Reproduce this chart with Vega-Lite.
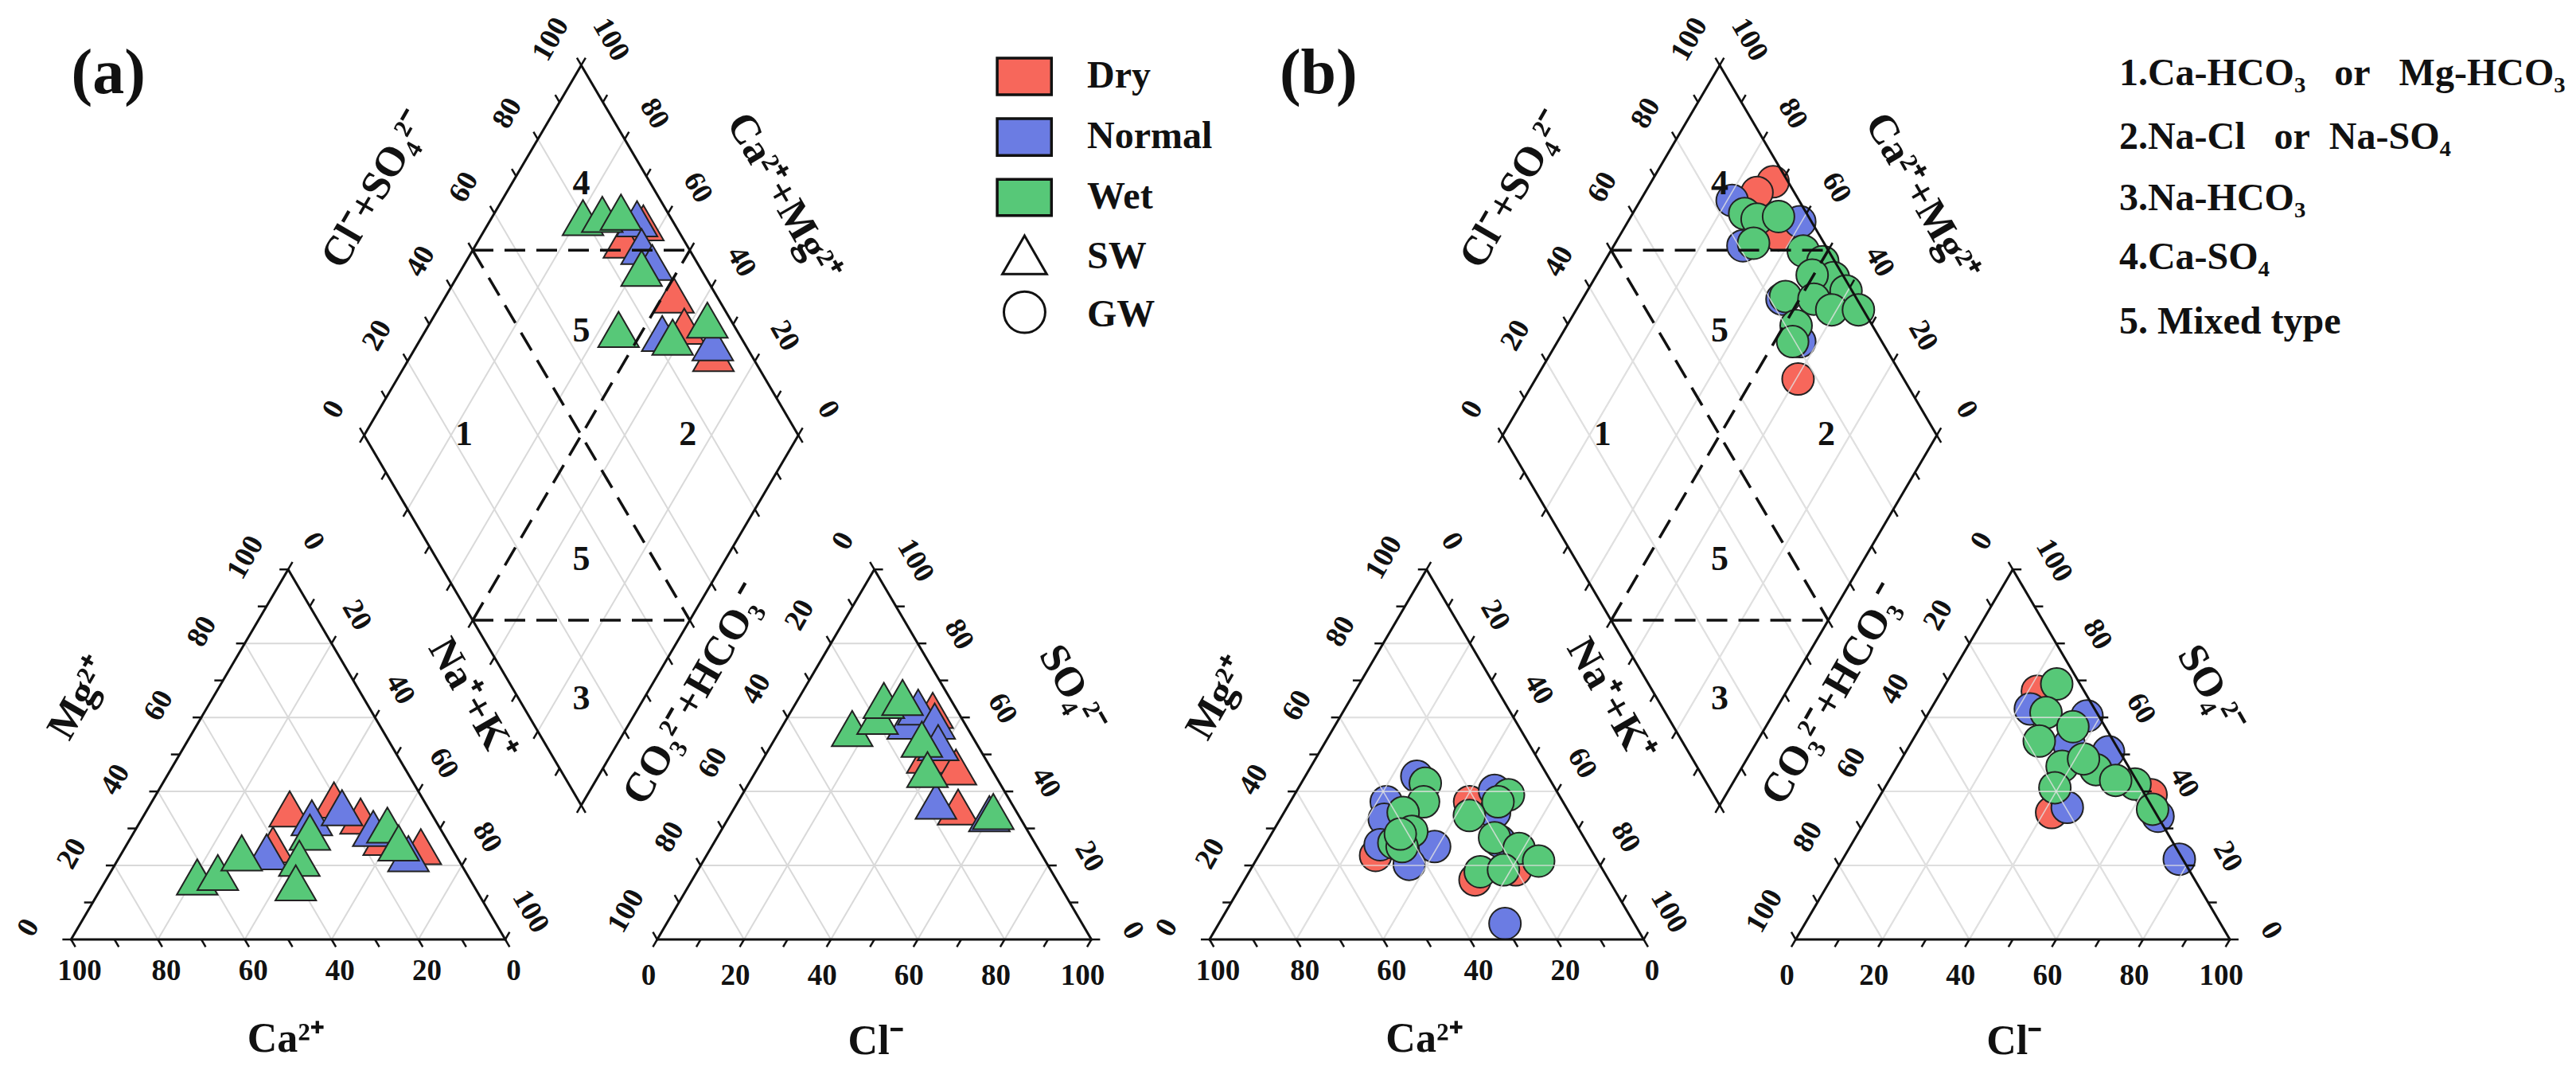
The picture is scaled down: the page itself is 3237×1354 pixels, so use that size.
{
"$schema":"https://vega.github.io/schema/vega-lite/v6.json",
"width":3237,"height":1354,
"autosize":{"type":"fit","contains":"padding"},
"padding":0,
"background":"white",
"config":{"view":{"stroke":null},"text":{"font":"Liberation Serif"}},
"encoding":{
 "x":{"field":"X","type":"quantitative","scale":{"domain":[-16.367,576.92],"nice":false,"zero":false},"axis":null},
 "y":{"field":"Y","type":"quantitative","scale":{"domain":[-32.42,219.86],"nice":false,"zero":false},"axis":null}
},
"datasets":{
 "seg":[
  {"k":"grid","g":["C","A"],"u":0,"v":20,"u2":80,"v2":20},
  {"k":"grid","g":["C","A"],"u":0,"v":40,"u2":60,"v2":40},
  {"k":"grid","g":["C","A"],"u":0,"v":60,"u2":40,"v2":60},
  {"k":"grid","g":["C","A"],"u":0,"v":80,"u2":20,"v2":80},
  {"k":"grid","g":["C","A"],"u":20,"v":0,"u2":20,"v2":80},
  {"k":"grid","g":["C","A"],"u":40,"v":0,"u2":40,"v2":60},
  {"k":"grid","g":["C","A"],"u":60,"v":0,"u2":60,"v2":40},
  {"k":"grid","g":["C","A"],"u":80,"v":0,"u2":80,"v2":20},
  {"k":"grid","g":["C","A"],"u":80,"v":0,"u2":0,"v2":80},
  {"k":"grid","g":["C","A"],"u":60,"v":0,"u2":0,"v2":60},
  {"k":"grid","g":["C","A"],"u":40,"v":0,"u2":0,"v2":40},
  {"k":"grid","g":["C","A"],"u":20,"v":0,"u2":0,"v2":20},
  {"k":"grid","g":["D"],"u":20,"v":0,"u2":20,"v2":100},
  {"k":"grid","g":["D"],"u":40,"v":0,"u2":40,"v2":100},
  {"k":"grid","g":["D"],"u":60,"v":0,"u2":60,"v2":100},
  {"k":"grid","g":["D"],"u":80,"v":0,"u2":80,"v2":100},
  {"k":"grid","g":["D"],"u":0,"v":20,"u2":100,"v2":20},
  {"k":"grid","g":["D"],"u":0,"v":40,"u2":100,"v2":40},
  {"k":"grid","g":["D"],"u":0,"v":60,"u2":100,"v2":60},
  {"k":"grid","g":["D"],"u":0,"v":80,"u2":100,"v2":80},
  {"k":"frame","g":["C","A"],"u":0,"v":0,"u2":100,"v2":0},
  {"k":"frame","g":["C","A"],"u":100,"v":0,"u2":0,"v2":100},
  {"k":"frame","g":["C","A"],"u":0,"v":100,"u2":0,"v2":0},
  {"k":"frame","g":["D"],"u":0,"v":0,"u2":100,"v2":0},
  {"k":"frame","g":["D"],"u":100,"v":0,"u2":100,"v2":100},
  {"k":"frame","g":["D"],"u":100,"v":100,"u2":0,"v2":100},
  {"k":"frame","g":["D"],"u":0,"v":100,"u2":0,"v2":0},
  {"k":"dash","g":["D"],"u":100,"v":50,"u2":0,"v2":50},
  {"k":"dash","g":["D"],"u":50,"v":0,"u2":50,"v2":100},
  {"k":"dash","g":["D"],"u":100,"v":50,"u2":50,"v2":100},
  {"k":"dash","g":["D"],"u":50,"v":0,"u2":0,"v2":50}
 ],
 "edges":[
  {"g":"C","ua":0,"ub":1,"va":0,"vb":0,"du":1,"dv":-1,"ks":[0,10,20,30,40,50,60,70,80,90,100]},
  {"g":"C","ua":0,"ub":0,"va":0,"vb":1,"du":-1,"dv":0,"ks":[0,10,20,30,40,50,60,70,80,90,100]},
  {"g":"C","ua":0,"ub":1,"va":100,"vb":-1,"du":0,"dv":1,"ks":[0,10,20,30,40,50,60,70,80,90,100]},
  {"g":"A","ua":0,"ub":1,"va":0,"vb":0,"du":0,"dv":-1,"ks":[0,10,20,30,40,50,60,70,80,90,100]},
  {"g":"A","ua":0,"ub":0,"va":0,"vb":1,"du":-1,"dv":1,"ks":[0,10,20,30,40,50,60,70,80,90,100]},
  {"g":"A","ua":0,"ub":1,"va":100,"vb":-1,"du":1,"dv":0,"ks":[0,10,20,30,40,50,60,70,80,90,100]},
  {"g":"D","ua":100,"ub":0,"va":0,"vb":1,"du":1,"dv":0,"ks":[0,10,20,30,40,50,60,70,80,90,100]},
  {"g":"D","ua":0,"ub":1,"va":100,"vb":0,"du":0,"dv":1,"ks":[0,10,20,30,40,50,60,70,80,90,100]},
  {"g":"D","ua":0,"ub":1,"va":0,"vb":0,"du":0,"dv":-1,"ks":[0,10,20,30,40,50,60,70,80,90,100]},
  {"g":"D","ua":0,"ub":0,"va":0,"vb":1,"du":-1,"dv":0,"ks":[0,10,20,30,40,50,60,70,80,90,100]}
 ],
 "lab":[
  {"g":"C","u":6.3,"v":-8.7,"t":"100","a":0,"fs":37},
  {"g":"C","u":26.3,"v":-8.7,"t":"80","a":0,"fs":37},
  {"g":"C","u":46.3,"v":-8.7,"t":"60","a":0,"fs":37},
  {"g":"C","u":66.3,"v":-8.7,"t":"40","a":0,"fs":37},
  {"g":"C","u":86.3,"v":-8.7,"t":"20","a":0,"fs":37},
  {"g":"C","u":106.3,"v":-8.7,"t":"0","a":0,"fs":37},
  {"g":"C","u":-11.4,"v":3.2,"t":"0","a":-60,"fs":37},
  {"g":"C","u":-11.4,"v":23.2,"t":"20","a":-60,"fs":37},
  {"g":"C","u":-11.4,"v":43.2,"t":"40","a":-60,"fs":37},
  {"g":"C","u":-11.4,"v":63.2,"t":"60","a":-60,"fs":37},
  {"g":"C","u":-11.4,"v":83.2,"t":"80","a":-60,"fs":37},
  {"g":"C","u":-11.4,"v":103.2,"t":"100","a":-60,"fs":37},
  {"g":"C","u":2,"v":107.6,"t":"0","a":60,"fs":37},
  {"g":"C","u":22,"v":87.6,"t":"20","a":60,"fs":37},
  {"g":"C","u":42,"v":67.6,"t":"40","a":60,"fs":37},
  {"g":"C","u":62,"v":47.6,"t":"60","a":60,"fs":37},
  {"g":"C","u":82,"v":27.6,"t":"80","a":60,"fs":37},
  {"g":"C","u":102,"v":7.6,"t":"100","a":60,"fs":37},
  {"g":"A","u":2.9,"v":-9.8,"t":"0","a":0,"fs":37},
  {"g":"A","u":22.9,"v":-9.8,"t":"20","a":0,"fs":37},
  {"g":"A","u":42.9,"v":-9.8,"t":"40","a":0,"fs":37},
  {"g":"A","u":62.9,"v":-9.8,"t":"60","a":0,"fs":37},
  {"g":"A","u":82.9,"v":-9.8,"t":"80","a":0,"fs":37},
  {"g":"A","u":102.9,"v":-9.8,"t":"100","a":0,"fs":37},
  {"g":"A","u":-11,"v":107.7,"t":"0","a":-60,"fs":37},
  {"g":"A","u":-11,"v":87.7,"t":"20","a":-60,"fs":37},
  {"g":"A","u":-11,"v":67.7,"t":"40","a":-60,"fs":37},
  {"g":"A","u":-11,"v":47.7,"t":"60","a":-60,"fs":37},
  {"g":"A","u":-11,"v":27.7,"t":"80","a":-60,"fs":37},
  {"g":"A","u":-11,"v":7.7,"t":"100","a":-60,"fs":37},
  {"g":"A","u":108.3,"v":2.4,"t":"0","a":60,"fs":37},
  {"g":"A","u":88.3,"v":22.4,"t":"20","a":60,"fs":37},
  {"g":"A","u":68.3,"v":42.4,"t":"40","a":60,"fs":37},
  {"g":"A","u":48.3,"v":62.4,"t":"60","a":60,"fs":37},
  {"g":"A","u":28.3,"v":82.4,"t":"80","a":60,"fs":37},
  {"g":"A","u":8.3,"v":102.4,"t":"100","a":60,"fs":37},
  {"g":"D","u":110.5,"v":-3.5,"t":"0","a":-60,"fs":37},
  {"g":"D","u":110.5,"v":16.5,"t":"20","a":-60,"fs":37},
  {"g":"D","u":110.5,"v":36.5,"t":"40","a":-60,"fs":37},
  {"g":"D","u":110.5,"v":56.5,"t":"60","a":-60,"fs":37},
  {"g":"D","u":110.5,"v":76.5,"t":"80","a":-60,"fs":37},
  {"g":"D","u":110.5,"v":96.5,"t":"100","a":-60,"fs":37},
  {"g":"D","u":-3.4,"v":110.3,"t":"0","a":60,"fs":37},
  {"g":"D","u":16.6,"v":110.3,"t":"20","a":60,"fs":37},
  {"g":"D","u":36.6,"v":110.3,"t":"40","a":60,"fs":37},
  {"g":"D","u":56.6,"v":110.3,"t":"60","a":60,"fs":37},
  {"g":"D","u":76.6,"v":110.3,"t":"80","a":60,"fs":37},
  {"g":"D","u":96.6,"v":110.3,"t":"100","a":60,"fs":37},
  {"g":"C","u":63,"v":-27,"t":"Ca²⁺","a":0,"fs":52},
  {"g":"C","u":-30.6,"v":65.2,"t":"Mg²⁺","a":-60,"fs":52},
  {"g":"C","u":60.1,"v":64.7,"t":"Na⁺+K⁺","a":60,"fs":52},
  {"g":"A","u":64.1,"v":-27.5,"t":"Cl⁻","a":0,"fs":52},
  {"g":"A","u":-24.5,"v":66.2,"t":"CO₃²⁻+HCO₃⁻","a":-60,"fs":52},
  {"g":"A","u":61.9,"v":67.65,"t":"SO₄²⁻","a":60,"fs":52},
  {"g":"D","u":130.7,"v":35.75,"t":"Cl⁻+SO₄²⁻","a":-60,"fs":52},
  {"g":"D","u":35.5,"v":128.8,"t":"Ca²⁺+Mg²⁺","a":60,"fs":52},
  {"g":"D","u":84,"v":84,"t":"4","a":0,"fs":44},
  {"g":"D","u":64.1,"v":64.1,"t":"5","a":0,"fs":44},
  {"g":"D","u":77.1,"v":23.1,"t":"1","a":0,"fs":44},
  {"g":"D","u":25.5,"v":74.6,"t":"2","a":0,"fs":44},
  {"g":"D","u":33.15,"v":33.15,"t":"5","a":0,"fs":44},
  {"g":"D","u":14.4,"v":14.4,"t":"3","a":0,"fs":44}
 ],
 "pts":[
  {"t":"SW","s":"Dry","g":"C","u":33.7,"v":25.6},{"t":"SW","s":"Dry","g":"C","u":32.7,"v":35.3},{"t":"SW","s":"Dry","g":"C","u":41.7,"v":37.7},{"t":"SW","s":"Dry","g":"C","u":50.0,"v":33.35},{"t":"SW","s":"Dry","g":"C","u":58.2,"v":27.6},{"t":"SW","s":"Dry","g":"C","u":68.0,"v":25.1},
  {"t":"SW","s":"Normal","g":"C","u":33.2,"v":23.7},{"t":"SW","s":"Normal","g":"C","u":39.0,"v":32.9},{"t":"SW","s":"Normal","g":"C","u":44.6,"v":35.6},{"t":"SW","s":"Normal","g":"C","u":54.6,"v":30.0},{"t":"SW","s":"Normal","g":"C","u":66.1,"v":23.2},
  {"t":"SW","s":"Wet","g":"C","u":20.6,"v":16.9},{"t":"SW","s":"Wet","g":"C","u":24.75,"v":18.1},{"t":"SW","s":"Wet","g":"C","u":27.6,"v":23.4},{"t":"SW","s":"Wet","g":"C","u":40.5,"v":29.0},{"t":"SW","s":"Wet","g":"C","u":41.6,"v":21.95},{"t":"SW","s":"Wet","g":"C","u":44.1,"v":15.3},{"t":"SW","s":"Wet","g":"C","u":57.4,"v":30.9},{"t":"SW","s":"Wet","g":"C","u":62.4,"v":26.1},
  {"t":"SW","s":"Dry","g":"A","u":32.5,"v":61.9},{"t":"SW","s":"Dry","g":"A","u":37.3,"v":49.8},{"t":"SW","s":"Dry","g":"A","u":41.0,"v":49.8},{"t":"SW","s":"Dry","g":"A","u":45.5,"v":46.6},{"t":"SW","s":"Dry","g":"A","u":51.4,"v":35.8},
  {"t":"SW","s":"Normal","g":"A","u":28.2,"v":59.0},{"t":"SW","s":"Normal","g":"A","u":28.7,"v":62.8},{"t":"SW","s":"Normal","g":"A","u":34.4,"v":59.0},{"t":"SW","s":"Normal","g":"A","u":38.1,"v":53.2},{"t":"SW","s":"Normal","g":"A","u":45.5,"v":37.4},{"t":"SW","s":"Normal","g":"A","u":59.5,"v":34.0},
  {"t":"SW","s":"Wet","g":"A","u":16.4,"v":57.0},{"t":"SW","s":"Wet","g":"A","u":20.6,"v":60.3},{"t":"SW","s":"Wet","g":"A","u":19.9,"v":64.6},{"t":"SW","s":"Wet","g":"A","u":23.8,"v":65.4},{"t":"SW","s":"Wet","g":"A","u":33.9,"v":54.1},{"t":"SW","s":"Wet","g":"A","u":39.3,"v":45.9},{"t":"SW","s":"Wet","g":"A","u":60.1,"v":34.6},
  {"t":"SW","s":"Dry","g":"D","u":64.4,"v":93.0},{"t":"SW","s":"Dry","g":"D","u":66.55,"v":86.2},{"t":"SW","s":"Dry","g":"D","u":47.7,"v":90.2},{"t":"SW","s":"Dry","g":"D","u":41.0,"v":88.45},{"t":"SW","s":"Dry","g":"D","u":30.6,"v":91.5},
  {"t":"SW","s":"Normal","g":"D","u":66.4,"v":92.1},{"t":"SW","s":"Normal","g":"D","u":61.6,"v":89.4},{"t":"SW","s":"Normal","g":"D","u":57.0,"v":89.7},{"t":"SW","s":"Normal","g":"D","u":45.1,"v":82.4},{"t":"SW","s":"Normal","g":"D","u":32.2,"v":92.8},
  {"t":"SW","s":"Wet","g":"D","u":79.0,"v":79.8},{"t":"SW","s":"Wet","g":"D","u":75.0,"v":84.7},{"t":"SW","s":"Wet","g":"D","u":71.0,"v":89.3},{"t":"SW","s":"Wet","g":"D","u":58.65,"v":86.45},{"t":"SW","s":"Wet","g":"D","u":55.7,"v":72.9},{"t":"SW","s":"Wet","g":"D","u":42.2,"v":84.3},{"t":"SW","s":"Wet","g":"D","u":36.5,"v":94.6},
  {"t":"GW","s":"Dry","g":"C","u":26.9,"v":22.7},{"t":"GW","s":"Dry","g":"C","u":41.3,"v":37.2},{"t":"GW","s":"Dry","g":"C","u":53.1,"v":16.1},{"t":"GW","s":"Dry","g":"C","u":61.1,"v":18.8},
  {"t":"GW","s":"Normal","g":"C","u":25.7,"v":44.1},{"t":"GW","s":"Normal","g":"C","u":22.1,"v":37.2},{"t":"GW","s":"Normal","g":"C","u":24.0,"v":32.5},{"t":"GW","s":"Normal","g":"C","u":26.5,"v":25.6},{"t":"GW","s":"Normal","g":"C","u":39.3,"v":25.1},{"t":"GW","s":"Normal","g":"C","u":35.85,"v":20.3},{"t":"GW","s":"Normal","g":"C","u":45.5,"v":40.3},{"t":"GW","s":"Normal","g":"C","u":48.5,"v":34.3},{"t":"GW","s":"Normal","g":"C","u":53.6,"v":26.5},{"t":"GW","s":"Normal","g":"C","u":65.9,"v":4.3},
  {"t":"GW","s":"Wet","g":"C","u":28.6,"v":42.2},{"t":"GW","s":"Wet","g":"C","u":30.7,"v":37.2},{"t":"GW","s":"Wet","g":"C","u":27.45,"v":34.3},{"t":"GW","s":"Wet","g":"C","u":32.0,"v":29.2},{"t":"GW","s":"Wet","g":"C","u":29.4,"v":26.1},{"t":"GW","s":"Wet","g":"C","u":31.8,"v":25.1},{"t":"GW","s":"Wet","g":"C","u":29.7,"v":28.5},{"t":"GW","s":"Wet","g":"C","u":49.3,"v":39.1},{"t":"GW","s":"Wet","g":"C","u":47.85,"v":37.2},{"t":"GW","s":"Wet","g":"C","u":43.1,"v":33.5},{"t":"GW","s":"Wet","g":"C","u":51.9,"v":27.5},{"t":"GW","s":"Wet","g":"C","u":59.0,"v":24.6},{"t":"GW","s":"Wet","g":"C","u":65.2,"v":21.2},{"t":"GW","s":"Wet","g":"C","u":53.2,"v":18.3},{"t":"GW","s":"Wet","g":"C","u":58.3,"v":18.8},
  {"t":"GW","s":"Dry","g":"A","u":22.1,"v":67.1},{"t":"GW","s":"Dry","g":"A","u":62.3,"v":39.1},{"t":"GW","s":"Dry","g":"A","u":41.8,"v":34.3},
  {"t":"GW","s":"Normal","g":"A","u":22.9,"v":62.3},{"t":"GW","s":"Normal","g":"A","u":36.9,"v":60.4},{"t":"GW","s":"Normal","g":"A","u":46.7,"v":50.7},{"t":"GW","s":"Normal","g":"A","u":36.7,"v":52.6},{"t":"GW","s":"Normal","g":"A","u":66.8,"v":33.3},{"t":"GW","s":"Normal","g":"A","u":44.7,"v":35.7},{"t":"GW","s":"Normal","g":"A","u":77.5,"v":21.7},
  {"t":"GW","s":"Wet","g":"A","u":25.6,"v":69.05},{"t":"GW","s":"Wet","g":"A","u":27.0,"v":61.3},{"t":"GW","s":"Wet","g":"A","u":35.1,"v":57.5},{"t":"GW","s":"Wet","g":"A","u":29.3,"v":53.6},{"t":"GW","s":"Wet","g":"A","u":37.96,"v":46.8},{"t":"GW","s":"Wet","g":"A","u":46.2,"v":45.9},{"t":"GW","s":"Wet","g":"A","u":57.15,"v":42.0},{"t":"GW","s":"Wet","g":"A","u":64.6,"v":35.2},{"t":"GW","s":"Wet","g":"A","u":39.2,"v":41.0},{"t":"GW","s":"Wet","g":"A","u":52.2,"v":43.0},{"t":"GW","s":"Wet","g":"A","u":41.9,"v":48.8},
  {"t":"GW","s":"Dry","g":"D","u":71.95,"v":96.55},{"t":"GW","s":"Dry","g":"D","u":74.2,"v":91.4},{"t":"GW","s":"Dry","g":"D","u":63.5,"v":90.6},{"t":"GW","s":"Dry","g":"D","u":39.55,"v":75.65},
  {"t":"GW","s":"Normal","g":"D","u":78.85,"v":84.6},{"t":"GW","s":"Normal","g":"D","u":60.4,"v":97.3},{"t":"GW","s":"Normal","g":"D","u":70.25,"v":80.95},{"t":"GW","s":"Normal","g":"D","u":54.05,"v":82.75},{"t":"GW","s":"Normal","g":"D","u":44.2,"v":81.1},
  {"t":"GW","s":"Wet","g":"D","u":74.2,"v":85.7},{"t":"GW","s":"Wet","g":"D","u":70.6,"v":87.8},{"t":"GW","s":"Wet","g":"D","u":66.0,"v":93.1},{"t":"GW","s":"Wet","g":"D","u":68.15,"v":83.75},{"t":"GW","s":"Wet","g":"D","u":55.65,"v":94.15},{"t":"GW","s":"Wet","g":"D","u":49.7,"v":97.2},{"t":"GW","s":"Wet","g":"D","u":45.1,"v":97.5},{"t":"GW","s":"Wet","g":"D","u":50.35,"v":92.95},{"t":"GW","s":"Wet","g":"D","u":40.4,"v":98.6},{"t":"GW","s":"Wet","g":"D","u":53.6,"v":83.9},{"t":"GW","s":"Wet","g":"D","u":46.7,"v":90.1},{"t":"GW","s":"Wet","g":"D","u":41.15,"v":92.75},{"t":"GW","s":"Wet","g":"D","u":35.0,"v":98.9},{"t":"GW","s":"Wet","g":"D","u":47.2,"v":82.4},{"t":"GW","s":"Wet","g":"D","u":45.85,"v":79.45}
 ],
 "legr":[
  {"s":"Dry","X":213.3,"X2":225.8,"Y":197.69,"Y2":206.26},
  {"s":"Normal","X":213.3,"X2":225.8,"Y":183.5,"Y2":192.1},
  {"s":"Wet","X":213.3,"X2":225.8,"Y":169.4,"Y2":177.9}
 ],
 "legt":[
  {"t":"Dry","X":234.0,"Y":201.97,"fs":48},
  {"t":"Normal","X":234.0,"Y":187.8,"fs":48},
  {"t":"Wet","X":234.0,"Y":173.6,"fs":48},
  {"t":"SW","X":234.0,"Y":159.7,"fs":48},
  {"t":"GW","X":234.0,"Y":146.1,"fs":48},
  {"t":"1.Ca-HCO₃\u00a0\u00a0\u00a0or\u00a0\u00a0\u00a0Mg-HCO₃","X":471.7,"Y":202.5,"fs":48},
  {"t":"2.Na-Cl\u00a0\u00a0\u00a0or\u00a0\u00a0Na-SO₄","X":471.7,"Y":187.6,"fs":48},
  {"t":"3.Na-HCO₃","X":471.7,"Y":173.3,"fs":48},
  {"t":"4.Ca-SO₄","X":471.7,"Y":159.5,"fs":48},
  {"t":"5.\u00a0Mixed type","X":471.7,"Y":144.4,"fs":48}
 ],
 "plab":[
  {"t":"(a)","X":8.6,"Y":202.5},
  {"t":"(b)","X":287.3,"Y":202.5}
 ]
},
"layer":[
 {"data":{"name":"seg"},
  "transform":[{"filter":"datum.k=='grid'"},{"flatten":["g"]},{"calculate":"['a','b']","as":"p"},{"flatten":["p"]},
   {"calculate":"(datum.g=='C' ? datum.u+datum.v/2 : datum.g=='A' ? 135+datum.u+datum.v/2 : 117.5+(datum.v-datum.u)/2) + (datum.p=='b' ? 262.2 : 0)","as":"X"},
   {"calculate":"datum.g=='D' ? 31.4+0.866*(datum.u+datum.v) : 0.866*datum.v","as":"Y"},
   {"calculate":"(datum.g=='C' ? datum.u2+datum.v2/2 : datum.g=='A' ? 135+datum.u2+datum.v2/2 : 117.5+(datum.v2-datum.u2)/2) + (datum.p=='b' ? 262.2 : 0)","as":"X2"},
   {"calculate":"datum.g=='D' ? 31.4+0.866*(datum.u2+datum.v2) : 0.866*datum.v2","as":"Y2"}],
  "mark":{"type":"rule","stroke":"#d9d9d9","strokeWidth":2},
  "encoding":{"x2":{"field":"X2"},"y2":{"field":"Y2"}}},
 {"data":{"name":"pts"},
  "transform":[{"calculate":"datum.t=='GW' ? 'b' : 'a'","as":"p"},
   {"calculate":"(datum.g=='C' ? datum.u+datum.v/2 : datum.g=='A' ? 135+datum.u+datum.v/2 : 117.5+(datum.v-datum.u)/2) + (datum.p=='b' ? 262.2 : 0)","as":"X"},
   {"calculate":"datum.g=='D' ? 31.4+0.866*(datum.u+datum.v) : 0.866*datum.v","as":"Y"}],
  "mark":{"type":"point","filled":true,"stroke":"#222222","strokeWidth":2,"opacity":1},
  "encoding":{
   "shape":{"field":"t","type":"nominal","scale":{"domain":["SW","GW"],"range":["triangle-up","circle"]},"legend":null},
   "size":{"field":"t","type":"ordinal","scale":{"domain":["SW","GW"],"range":[2630,1600]},"legend":null},
   "fill":{"field":"s","type":"nominal","scale":{"domain":["Dry","Normal","Wet"],"range":["#F7675B","#6B7CE3","#57C878"]},"legend":null}}},
 {"data":{"name":"seg"},
  "transform":[{"filter":"datum.k=='grid'"},{"flatten":["g"]},{"calculate":"'b'","as":"p"},
   {"calculate":"(datum.g=='C' ? datum.u+datum.v/2 : datum.g=='A' ? 135+datum.u+datum.v/2 : 117.5+(datum.v-datum.u)/2) + (datum.p=='b' ? 262.2 : 0)","as":"X"},
   {"calculate":"datum.g=='D' ? 31.4+0.866*(datum.u+datum.v) : 0.866*datum.v","as":"Y"},
   {"calculate":"(datum.g=='C' ? datum.u2+datum.v2/2 : datum.g=='A' ? 135+datum.u2+datum.v2/2 : 117.5+(datum.v2-datum.u2)/2) + (datum.p=='b' ? 262.2 : 0)","as":"X2"},
   {"calculate":"datum.g=='D' ? 31.4+0.866*(datum.u2+datum.v2) : 0.866*datum.v2","as":"Y2"}],
  "mark":{"type":"rule","stroke":"#e2e2e2","strokeWidth":1.6,"opacity":0.8},
  "encoding":{"x2":{"field":"X2"},"y2":{"field":"Y2"}}},
 {"data":{"name":"seg"},
  "transform":[{"filter":"datum.k=='dash'"},{"flatten":["g"]},{"calculate":"['a','b']","as":"p"},{"flatten":["p"]},
   {"calculate":"(datum.g=='C' ? datum.u+datum.v/2 : datum.g=='A' ? 135+datum.u+datum.v/2 : 117.5+(datum.v-datum.u)/2) + (datum.p=='b' ? 262.2 : 0)","as":"X"},
   {"calculate":"datum.g=='D' ? 31.4+0.866*(datum.u+datum.v) : 0.866*datum.v","as":"Y"},
   {"calculate":"(datum.g=='C' ? datum.u2+datum.v2/2 : datum.g=='A' ? 135+datum.u2+datum.v2/2 : 117.5+(datum.v2-datum.u2)/2) + (datum.p=='b' ? 262.2 : 0)","as":"X2"},
   {"calculate":"datum.g=='D' ? 31.4+0.866*(datum.u2+datum.v2) : 0.866*datum.v2","as":"Y2"}],
  "mark":{"type":"rule","stroke":"#111111","strokeWidth":3.5,"strokeDash":[26,14]},
  "encoding":{"x2":{"field":"X2"},"y2":{"field":"Y2"}}},
 {"data":{"name":"seg"},
  "transform":[{"filter":"datum.k=='frame'"},{"flatten":["g"]},{"calculate":"['a','b']","as":"p"},{"flatten":["p"]},
   {"calculate":"(datum.g=='C' ? datum.u+datum.v/2 : datum.g=='A' ? 135+datum.u+datum.v/2 : 117.5+(datum.v-datum.u)/2) + (datum.p=='b' ? 262.2 : 0)","as":"X"},
   {"calculate":"datum.g=='D' ? 31.4+0.866*(datum.u+datum.v) : 0.866*datum.v","as":"Y"},
   {"calculate":"(datum.g=='C' ? datum.u2+datum.v2/2 : datum.g=='A' ? 135+datum.u2+datum.v2/2 : 117.5+(datum.v2-datum.u2)/2) + (datum.p=='b' ? 262.2 : 0)","as":"X2"},
   {"calculate":"datum.g=='D' ? 31.4+0.866*(datum.u2+datum.v2) : 0.866*datum.v2","as":"Y2"}],
  "mark":{"type":"rule","stroke":"#111111","strokeWidth":3,"strokeCap":"round"},
  "encoding":{"x2":{"field":"X2"},"y2":{"field":"Y2"}}},
 {"data":{"name":"edges"},
  "transform":[{"flatten":["ks"]},{"calculate":"['a','b']","as":"p"},{"flatten":["p"]},
   {"calculate":"datum.ua+datum.ub*datum.ks","as":"u"},
   {"calculate":"datum.va+datum.vb*datum.ks","as":"v"},
   {"calculate":"datum.u+2*datum.du","as":"u2"},
   {"calculate":"datum.v+2*datum.dv","as":"v2"},
   {"calculate":"(datum.g=='C' ? datum.u+datum.v/2 : datum.g=='A' ? 135+datum.u+datum.v/2 : 117.5+(datum.v-datum.u)/2) + (datum.p=='b' ? 262.2 : 0)","as":"X"},
   {"calculate":"datum.g=='D' ? 31.4+0.866*(datum.u+datum.v) : 0.866*datum.v","as":"Y"},
   {"calculate":"(datum.g=='C' ? datum.u2+datum.v2/2 : datum.g=='A' ? 135+datum.u2+datum.v2/2 : 117.5+(datum.v2-datum.u2)/2) + (datum.p=='b' ? 262.2 : 0)","as":"X2"},
   {"calculate":"datum.g=='D' ? 31.4+0.866*(datum.u2+datum.v2) : 0.866*datum.v2","as":"Y2"}],
  "mark":{"type":"rule","stroke":"#111111","strokeWidth":2.5},
  "encoding":{"x2":{"field":"X2"},"y2":{"field":"Y2"}}},
 {"data":{"name":"lab"},
  "transform":[{"calculate":"['a','b']","as":"p"},{"flatten":["p"]},
   {"calculate":"(datum.g=='C' ? datum.u+datum.v/2 : datum.g=='A' ? 135+datum.u+datum.v/2 : 117.5+(datum.v-datum.u)/2) + (datum.p=='b' ? 262.2 : 0)","as":"X"},
   {"calculate":"datum.g=='D' ? 31.4+0.866*(datum.u+datum.v) : 0.866*datum.v","as":"Y"}],
  "mark":{"type":"text","font":"Liberation Serif","fontWeight":"bold","align":"center","baseline":"middle","color":"#111111"},
  "encoding":{"text":{"field":"t"},"angle":{"field":"a","type":"quantitative","scale":null},"size":{"field":"fs","type":"quantitative","scale":null}}},
 {"data":{"name":"plab"},
  "mark":{"type":"text","font":"Liberation Serif","fontWeight":"bold","align":"center","baseline":"middle","fontSize":80,"color":"#111111"},
  "encoding":{"text":{"field":"t"}}},
 {"data":{"name":"legt"},
  "mark":{"type":"text","font":"Liberation Serif","fontWeight":"bold","align":"left","baseline":"middle","color":"#111111"},
  "encoding":{"text":{"field":"t"},"size":{"field":"fs","type":"quantitative","scale":null}}},
 {"data":{"name":"legr"},
  "mark":{"type":"rect","stroke":"#111111","strokeWidth":3.5},
  "encoding":{"x2":{"field":"X2"},"y2":{"field":"Y2"},
   "fill":{"field":"s","type":"nominal","scale":{"domain":["Dry","Normal","Wet"],"range":["#F7675B","#6B7CE3","#57C878"]},"legend":null}}},
 {"data":{"values":[{"X":219.6,"Y":160.2}]},
  "mark":{"type":"point","shape":"triangle-up","size":3100,"filled":false,"stroke":"#111111","strokeWidth":3,"opacity":1},
  "encoding":{}},
 {"data":{"values":[{"X":219.6,"Y":146.8}]},
  "mark":{"type":"point","shape":"circle","size":2700,"filled":false,"stroke":"#111111","strokeWidth":3,"opacity":1},
  "encoding":{}}
]
}
